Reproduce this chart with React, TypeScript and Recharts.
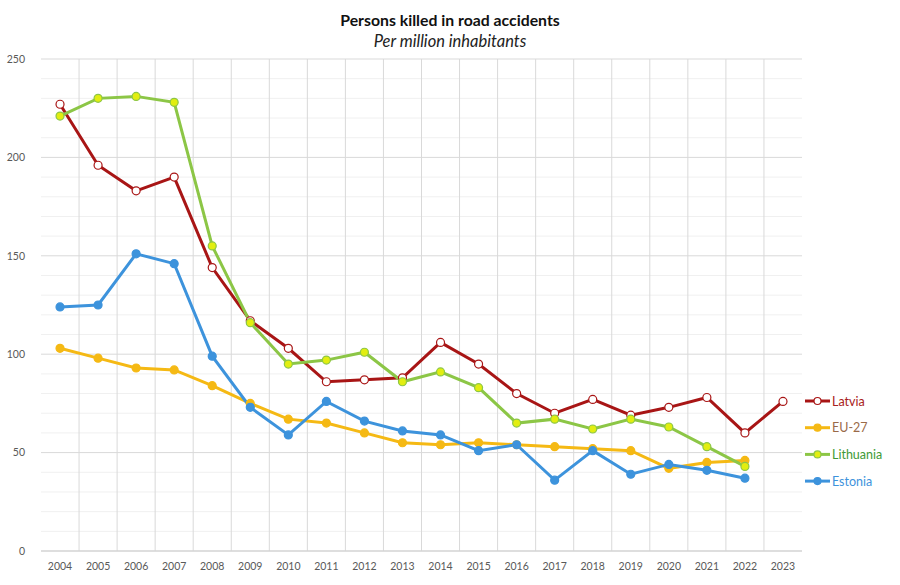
import React from "react";
import { LineChart, Line, XAxis, YAxis, CartesianGrid } from "recharts";

const years = [2004, 2005, 2006, 2007, 2008, 2009, 2010, 2011, 2012, 2013, 2014, 2015, 2016, 2017, 2018, 2019, 2020, 2021, 2022, 2023];
const latvia = [227, 196, 183, 190, 144, 117, 103, 86, 87, 88, 106, 95, 80, 70, 77, 69, 73, 78, 60, 76];
const eu27 = [103, 98, 93, 92, 84, 75, 67, 65, 60, 55, 54, 55, 54, 53, 52, 51, 42, 45, 46];
const lithuania = [221, 230, 231, 228, 155, 116, 95, 97, 101, 86, 91, 83, 65, 67, 62, 67, 63, 53, 43];
const estonia = [124, 125, 151, 146, 99, 73, 59, 76, 66, 61, 59, 51, 54, 36, 51, 39, 44, 41, 37];

const yTicks = [0, 50, 100, 150, 200, 250];
const yMinorTicks = [10, 20, 30, 40, 60, 70, 80, 90, 110, 120, 130, 140, 160, 170, 180, 190, 210, 220, 230, 240];
const gridTicks = years.slice(0, -1).map((y) => y + 0.5);

const data = years.map((year, i) => ({
  year,
  Latvia: latvia[i] ?? null,
  "EU-27": eu27[i] ?? null,
  Lithuania: lithuania[i] ?? null,
  Estonia: estonia[i] ?? null,
}));

const series = [
  { key: "Latvia", stroke: "#a81515", fill: "#ffffff", dotStroke: "#a81515", text: "#a82020" },
  { key: "EU-27", stroke: "#f5b914", fill: "#f5b914", dotStroke: "#f5b914", text: "#9a6a48" },
  { key: "Lithuania", stroke: "#8cc646", fill: "#e2ee10", dotStroke: "#8cc646", text: "#3e9a36" },
  { key: "Estonia", stroke: "#3d93dc", fill: "#3d93dc", dotStroke: "#3d93dc", text: "#3d93dc" },
];

const LegendBox = () => (
  <svg width={90} height={110} style={{ position: "absolute", left: 804, top: 392 }}>
    {series.map((s, i) => {
      const y = 9 + i * 26.7;
      return (
        <g key={s.key}>
          <line x1={1} x2={26} y1={y} y2={y} stroke={s.stroke} strokeWidth={3} />
          <circle cx={13.5} cy={y} r={3.5} fill={s.fill} stroke={s.dotStroke} strokeWidth={1.2} />
          <text x={28} y={y + 4.5} fontSize={12.5} fill={s.text} fontFamily="Lato, 'Open Sans', sans-serif">
            {s.key}
          </text>
        </g>
      );
    })}
  </svg>
);

export default function App() {
  return (
    <div style={{ position: "absolute", left: 0, top: 0, width: 900, height: 585, background: "#fff", fontFamily: "Lato, 'Open Sans', sans-serif" }}>
      <div style={{ position: "absolute", left: 0, top: 10, width: 900, textAlign: "center", fontSize: 15.8, fontWeight: 700, color: "#111" }}>
        Persons killed in road accidents
      </div>
      <div style={{ position: "absolute", left: 0, top: 31, width: 900, textAlign: "center", fontSize: 16.5, fontStyle: "italic", color: "#222" }}>
        Per million inhabitants
      </div>
      <LineChart width={900} height={585} data={data} margin={{ top: 59, right: 98, bottom: 0, left: 0 }}>
        <CartesianGrid horizontalValues={yMinorTicks} vertical={false} stroke="#f0f0f0" strokeWidth={1} />
        <CartesianGrid horizontalValues={yTicks} verticalValues={gridTicks} stroke="#d9d9d9" strokeWidth={1} />
        <XAxis
          dataKey="year"
          type="number"
          domain={[2003.5, 2023.5]}
          ticks={years}
          interval={0}
          tickLine={false}
          axisLine={{ stroke: "#d0d0d0" }}
          tick={{ fontSize: 10.5, fill: "#595959" }}
          tickMargin={6}
          height={34}
        />
        <YAxis
          domain={[0, 250]}
          ticks={yTicks}
          interval={0}
          width={41}
          tickLine={false}
          axisLine={false}
          tick={{ fontSize: 10.5, fill: "#595959" }}
          tickMargin={10}
        />
        {series.map((s) => (
          <Line
            key={s.key}
            dataKey={s.key}
            stroke={s.stroke}
            strokeWidth={3}
            dot={{ r: 4, fill: s.fill, stroke: s.dotStroke, strokeWidth: 1.2 }}
            activeDot={false}
            isAnimationActive={false}
            connectNulls={false}
          />
        ))}
      </LineChart>
      <LegendBox />
    </div>
  );
}
